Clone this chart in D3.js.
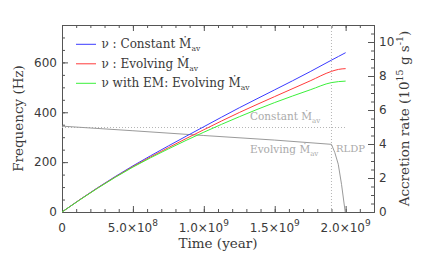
<!DOCTYPE html>
<html>
<head>
<meta charset="utf-8">
<script src="https://cdn.jsdelivr.net/npm/d3@7"></script>
<style>
  html, body { margin: 0; padding: 0; background: #fff; }
  svg { display: block; }
</style>
</head>
<body>
<svg id="chart" width="436" height="262"></svg>
<script>
// ---------------- data ----------------
const timeFreq   = [0, 2.5e8, 5e8, 7.5e8, 1e9, 1.25e9, 1.5e9, 1.75e9, 1.9e9, 1.95e9, 2.0e9];
const nuConstant = [0, 97, 185, 265, 342, 418, 490, 563, 609, 624, 639];
const nuEvolving = [0, 96, 182, 258, 330, 399, 463, 526, 564, 572, 575];
const nuWithEM   = [0, 95, 180, 253, 320, 382, 439, 490, 519, 523, 525];

const timeRate     = [0, 5e8, 1e9, 1.5e9, 1.9e9, 1.924e9, 1.948e9, 1.971e9, 1.997e9];
const rateEvolving = [5.05, 4.78, 4.5, 4.23, 3.98, 3.49, 2.81, 1.63, 0];
const timeConstRate = [0, 2.0e9];
const rateConstant  = [4.97, 4.97];
const rldpTime = 1.9e9;

const xTicks = [0, 5e8, 1e9, 1.5e9, 2e9];
const xTickLabels = [["0", ""], ["5.0×10", "8"], ["1.0×10", "9"], ["1.5×10", "9"], ["2.0×10", "9"]];
const xMinor = d3.range(0, 2.2e9 + 1, 1e8);
const freqTicks = [0, 200, 400, 600];
const freqMinor = d3.range(0, 751, 50);
const rateTicks = [0, 2, 4, 6, 8, 10];
const rateMinor = d3.range(0, 11.01, 0.5);

const legendLabels = [
  ["ν : Constant ", "Ṁ", "av"],
  ["ν : Evolving ", "Ṁ", "av"],
  ["ν with EM: Evolving ", "Ṁ", "av"]
];
const seriesColors = ["#3b3bff", "#ff3b3b", "#3bf03b"];

// ---------------- layout ----------------
const L = 62, R = 374, T = 25, B = 212;
const svg = d3.select("#chart");
const axisColor = "#555";
const textColor = "#3a3a3a";
const grayCol = "#9a9a9a";

const x = d3.scaleLinear().domain([0, 2.2e9]).range([L, R]);
const y = d3.scaleLinear().domain([0, 750]).range([B, T]);
const y2 = d3.scaleLinear().domain([0, 11]).range([B, T]);

function styleAxis(g) {
  g.selectAll("path.domain").attr("stroke", axisColor).attr("stroke-width", 1);
  g.selectAll(".tick line").attr("stroke", axisColor).attr("stroke-width", 1);
  g.selectAll(".tick text").remove();
}

const axes = svg.append("g");
axes.append("g").attr("transform", `translate(0,${B})`)
  .call(d3.axisBottom(x).tickValues(xMinor).tickSize(-3).tickSizeOuter(0)).call(styleAxis);
axes.append("g").attr("transform", `translate(0,${B})`)
  .call(d3.axisBottom(x).tickValues(xTicks).tickSize(-6).tickSizeOuter(0)).call(styleAxis);
axes.append("g").attr("transform", `translate(0,${T})`)
  .call(d3.axisTop(x).tickValues(xMinor).tickSize(-3).tickSizeOuter(0)).call(styleAxis);
axes.append("g").attr("transform", `translate(0,${T})`)
  .call(d3.axisTop(x).tickValues(xTicks).tickSize(-6).tickSizeOuter(0)).call(styleAxis);
axes.append("g").attr("transform", `translate(${L},0)`)
  .call(d3.axisLeft(y).tickValues(freqMinor).tickSize(-3).tickSizeOuter(0)).call(styleAxis);
axes.append("g").attr("transform", `translate(${L},0)`)
  .call(d3.axisLeft(y).tickValues(freqTicks).tickSize(-6).tickSizeOuter(0)).call(styleAxis);
axes.append("g").attr("transform", `translate(${R},0)`)
  .call(d3.axisRight(y2).tickValues(rateMinor).tickSize(-3).tickSizeOuter(0)).call(styleAxis);
axes.append("g").attr("transform", `translate(${R},0)`)
  .call(d3.axisRight(y2).tickValues(rateTicks).tickSize(-6).tickSizeOuter(0)).call(styleAxis);

// tick labels
const numFont = "'DejaVu Sans', sans-serif";
const xl = svg.append("g").attr("font-family", numFont).attr("font-size", 12).attr("fill", textColor);
xTicks.forEach((v, i) => {
  const t = xl.append("text").attr("x", x(v)).attr("y", 232).attr("text-anchor", "middle");
  t.append("tspan").text(xTickLabels[i][0]);
  if (xTickLabels[i][1]) t.append("tspan").attr("font-size", 9).attr("dy", -6).text(xTickLabels[i][1]);
});
const yl = svg.append("g").attr("font-family", numFont).attr("font-size", 12).attr("fill", textColor);
freqTicks.forEach(v => {
  yl.append("text").attr("x", 57).attr("y", y(v)).attr("dy", "0.36em").attr("text-anchor", "end").text(v);
});
rateTicks.forEach(v => {
  yl.append("text").attr("x", 379).attr("y", y2(v)).attr("dy", "0.36em").attr("text-anchor", "start").text(v);
});

// axis titles
const titleFont = "'DejaVu Serif', serif";
svg.append("text").attr("font-family", titleFont).attr("font-size", 13.5).attr("fill", textColor)
  .attr("x", (L + R) / 2).attr("y", 248).attr("text-anchor", "middle").text("Time (year)");
svg.append("text").attr("font-family", titleFont).attr("font-size", 13.5).attr("fill", textColor)
  .attr("transform", `translate(23,${(T + B) / 2}) rotate(-90)`).attr("text-anchor", "middle").text("Frequency (Hz)");
const rt = svg.append("text").attr("font-family", titleFont).attr("font-size", 13.5).attr("fill", textColor)
  .attr("transform", `translate(409,${(T + B) / 2}) rotate(-90)`).attr("text-anchor", "middle");
rt.append("tspan").text("Accretion rate (10");
rt.append("tspan").attr("font-size", 9.5).attr("dy", -6).text("15");
rt.append("tspan").attr("dy", 6).text(" g s");
rt.append("tspan").attr("font-size", 9.5).attr("dy", -6).text("-1");
rt.append("tspan").attr("dy", 6).text(")");

// reference lines (dotted)
svg.append("line").attr("x1", x(rldpTime)).attr("x2", x(rldpTime)).attr("y1", T).attr("y2", B)
  .attr("stroke", "#b5b5b5").attr("stroke-width", 1).attr("stroke-dasharray", "1,2");
svg.append("path")
  .datum(timeConstRate.map((t, i) => [t, rateConstant[i]]))
  .attr("d", d3.line().x(d => x(d[0])).y(d => y2(d[1])))
  .attr("fill", "none").attr("stroke", "#b5b5b5").attr("stroke-width", 1).attr("stroke-dasharray", "1,2");

// evolving accretion rate
svg.append("path")
  .datum(timeRate.map((t, i) => [t, rateEvolving[i]]))
  .attr("d", d3.line().x(d => x(d[0])).y(d => y2(d[1])))
  .attr("fill", "none").attr("stroke", grayCol).attr("stroke-width", 1);

// frequency curves
[nuConstant, nuEvolving, nuWithEM].forEach((s, k) => {
  svg.append("path")
    .datum(timeFreq.map((t, i) => [t, s[i]]))
    .attr("d", d3.line().curve(d3.curveMonotoneX).x(d => x(d[0])).y(d => y(d[1])))
    .attr("fill", "none").attr("stroke", seriesColors[k]).attr("stroke-width", 1);
});

// legend
const legFont = "'DejaVu Serif', serif";
const lg = svg.append("g").attr("font-family", legFont).attr("font-size", 12).attr("fill", textColor);
legendLabels.forEach((lab, i) => {
  const ly = 44.3 + i * 19.5;
  lg.append("line").attr("x1", 76).attr("x2", 96).attr("y1", ly).attr("y2", ly)
    .attr("stroke", seriesColors[i]).attr("stroke-width", 1);
  const t = lg.append("text").attr("x", 101.5).attr("y", ly + 4);
  t.append("tspan").text(lab[0]);
  t.append("tspan").text(lab[1]);
  t.append("tspan").attr("font-size", 7.5).attr("dy", 3).text(lab[2]);
});

// in-plot gray labels
const gl = svg.append("g").attr("font-family", legFont).attr("font-size", 10.5).attr("fill", "#aaa");
function mLabel(xp, yp, word) {
  const t = gl.append("text").attr("x", xp).attr("y", yp);
  t.append("tspan").text(word + " ");
  t.append("tspan").text("Ṁ");
  t.append("tspan").attr("font-size", 7).attr("dy", 3).text("av");
}
mLabel(250, 120, "Constant");
mLabel(250, 153, "Evolving");
gl.append("text").attr("x", 336).attr("y", 151.5).attr("font-size", 10).text("RLDP");
</script>
</body>
</html>
